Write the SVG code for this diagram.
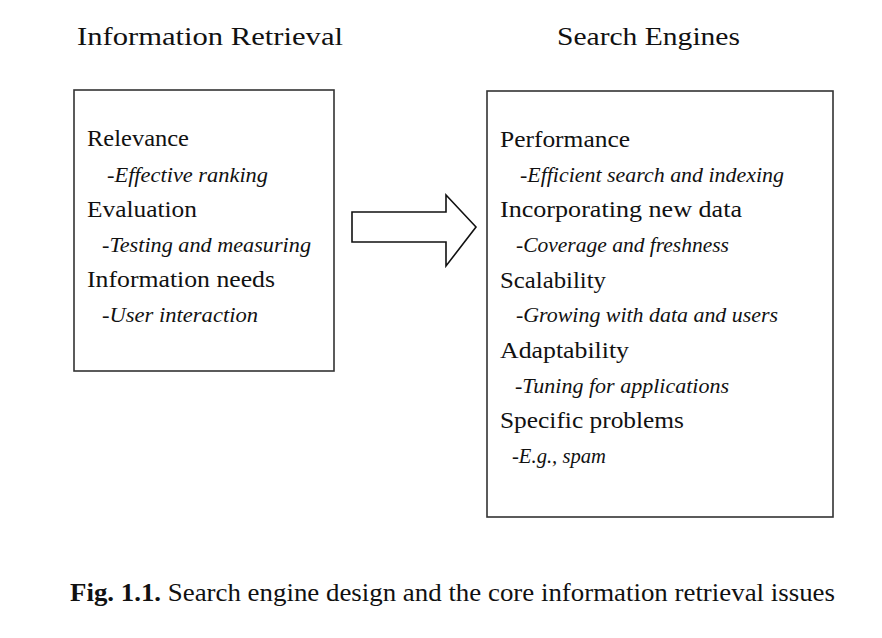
<svg xmlns="http://www.w3.org/2000/svg" width="882" height="638" viewBox="0 0 882 638">
<style>
text{font-family:"Liberation Serif","Times New Roman",serif;fill:#111}
.t{font-size:26px}
.h{font-size:23px}
.s{font-size:22px;font-style:italic}
.c{font-size:25px}
.box{fill:#fff;stroke:#333;stroke-width:1.6}
</style>
<rect width="882" height="638" fill="#fff"/>
<g id="title-ir"><text class="t" x="77" y="45" textLength="266" lengthAdjust="spacingAndGlyphs">Information Retrieval</text></g>
<g id="title-se"><text class="t" x="557" y="45" textLength="183" lengthAdjust="spacingAndGlyphs">Search Engines</text></g>
<g id="ir-box">
<rect class="box" x="74" y="90" width="260" height="281"/>
<text class="h" x="87" y="146" textLength="102" lengthAdjust="spacingAndGlyphs">Relevance</text>
<text class="s" x="107" y="182" textLength="161" lengthAdjust="spacingAndGlyphs">-Effective ranking</text>
<text class="h" x="87" y="217" textLength="110" lengthAdjust="spacingAndGlyphs">Evaluation</text>
<text class="s" x="102" y="252" textLength="209" lengthAdjust="spacingAndGlyphs">-Testing and measuring</text>
<text class="h" x="87" y="287" textLength="188" lengthAdjust="spacingAndGlyphs">Information needs</text>
<text class="s" x="102" y="322" textLength="156" lengthAdjust="spacingAndGlyphs">-User interaction</text>
</g>
<g id="connectors">
<polygon points="352,212 446,212 446,195 476,227 446,266 446,242 352,242" fill="#fff" stroke="#111" stroke-width="1.6" stroke-linejoin="miter"/>
</g>
<g id="se-box">
<rect class="box" x="487" y="91" width="346" height="426"/>
<text class="h" x="500" y="147" textLength="130" lengthAdjust="spacingAndGlyphs">Performance</text>
<text class="s" x="520" y="182" textLength="264" lengthAdjust="spacingAndGlyphs">-Efficient search and indexing</text>
<text class="h" x="500" y="217" textLength="242" lengthAdjust="spacingAndGlyphs">Incorporating new data</text>
<text class="s" x="516" y="252" textLength="213" lengthAdjust="spacingAndGlyphs">-Coverage and freshness</text>
<text class="h" x="500" y="288" textLength="106" lengthAdjust="spacingAndGlyphs">Scalability</text>
<text class="s" x="516" y="322" textLength="262" lengthAdjust="spacingAndGlyphs">-Growing with data and users</text>
<text class="h" x="500" y="358" textLength="129" lengthAdjust="spacingAndGlyphs">Adaptability</text>
<text class="s" x="515" y="393" textLength="214" lengthAdjust="spacingAndGlyphs">-Tuning for applications</text>
<text class="h" x="500" y="428" textLength="184" lengthAdjust="spacingAndGlyphs">Specific problems</text>
<text class="s" x="512" y="463" textLength="94" lengthAdjust="spacingAndGlyphs">-E.g., spam</text>
</g>
<g id="caption">
<text class="c" x="70" y="601" textLength="765" lengthAdjust="spacingAndGlyphs"><tspan font-weight="bold">Fig. 1.1.</tspan> Search engine design and the core information retrieval issues</text>
</g>
</svg>
